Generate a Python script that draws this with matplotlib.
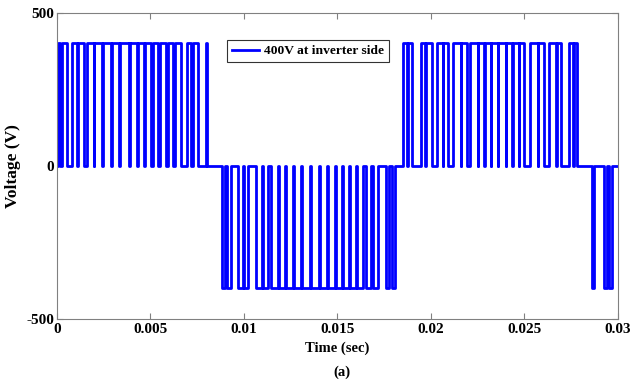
import numpy as np
import matplotlib.pyplot as plt

plt.rcParams['font.family'] = ['Liberation Serif', 'DejaVu Serif']
plt.rcParams['font.weight'] = 'bold'
plt.rcParams['axes.unicode_minus'] = False

# pulse edges (ms) and level (V)
t_on = [0.03, 0.27, 0.80, 1.12, 1.60, 1.98, 2.46, 2.94, 3.37, 3.85, 4.33, 4.71,
        5.13, 5.51, 5.94, 6.31, 6.95, 7.27, 7.97,
        8.82, 9.09, 9.68, 10.00, 10.64, 11.02, 11.44, 11.87, 12.25, 12.67, 13.10,
        13.58, 14.06, 14.49, 14.92, 15.29, 15.67, 16.04, 16.52, 16.90, 17.59, 17.91,
        18.50, 18.77, 19.47, 19.73, 20.32, 20.64, 21.18, 21.60, 22.09, 22.51, 22.89,
        23.21, 23.58, 24.01, 24.39, 24.71, 25.29, 25.72, 26.31, 26.74, 27.38, 27.65,
        28.61, 29.25, 29.52]
t_off = [0.18, 0.52, 1.06, 1.45, 1.98, 2.38, 2.90, 3.30, 3.88, 4.30, 4.66, 5.04,
         5.40, 5.84, 6.20, 6.62, 7.14, 7.52, 8.04,
         9.00, 9.28, 9.93, 10.20, 10.96, 11.30, 11.82, 12.20, 12.63, 13.05, 13.54,
         14.02, 14.45, 14.87, 15.24, 15.62, 15.99, 16.36, 16.78, 17.14, 17.77, 18.09,
         18.74, 19.01, 19.67, 20.05, 20.65, 20.92, 21.62, 21.94, 22.52, 22.84, 23.20,
         23.58, 24.02, 24.34, 24.70, 24.97, 25.72, 26.04, 26.67, 26.93, 27.61, 27.83,
         28.73, 29.43, 29.70]
level = [400] * 19 + [-400] * 22 + [400] * 22 + [-400] * 3

# step waveform from the pulse list
t = [0.0]
v = [0.0]
for a, b, lv in zip(t_on, t_off, level):
    t += [a / 1000, a / 1000, b / 1000, b / 1000]
    v += [0, lv, lv, 0]
t.append(0.03)
v.append(0)

fig = plt.figure(figsize=(6.39, 3.85), dpi=100)
ax = fig.add_axes([0.0892, 0.1714, 0.8779, 0.7956])
ax.plot(t, v, color='#0000ff', linewidth=2.0, label='400V at inverter side')

ax.set_xlim(0, 0.03)
ax.set_ylim(-500, 500)
ax.set_xticks([0, 0.005, 0.01, 0.015, 0.02, 0.025, 0.03])
ax.set_xticklabels(['0', '0.005', '0.01', '0.015', '0.02', '0.025', '0.03'])
ax.set_yticks([-500, 0, 500])
ax.tick_params(direction='in', top=True, right=True, labelsize=11, length=4,
               color='#808080')
ax.tick_params(axis='x', pad=3)
ax.tick_params(axis='y', pad=2)
for s in ax.spines.values():
    s.set_color('#808080')
    s.set_linewidth(0.8)
for lab in ax.get_xticklabels() + ax.get_yticklabels():
    lab.set_fontweight('bold')

ax.set_ylabel('Voltage (V)', fontsize=12.5, fontweight='bold', labelpad=4)
ax.set_xlabel('Time (sec)', fontsize=10.5, fontweight='bold', labelpad=4)
fig.text(0.535, 0.025, '(a)', ha='center', fontsize=10.5, fontweight='bold')

leg = ax.legend(loc='upper left', bbox_to_anchor=(0.303, 0.91), fontsize=9.7,
                frameon=True, fancybox=False, edgecolor='black', handlelength=2.0,
                borderpad=0.35, handletextpad=0.4, borderaxespad=0)
leg.get_frame().set_linewidth(0.8)
for txt in leg.get_texts():
    txt.set_fontweight('bold')

fig.savefig('out.png', dpi=100)
